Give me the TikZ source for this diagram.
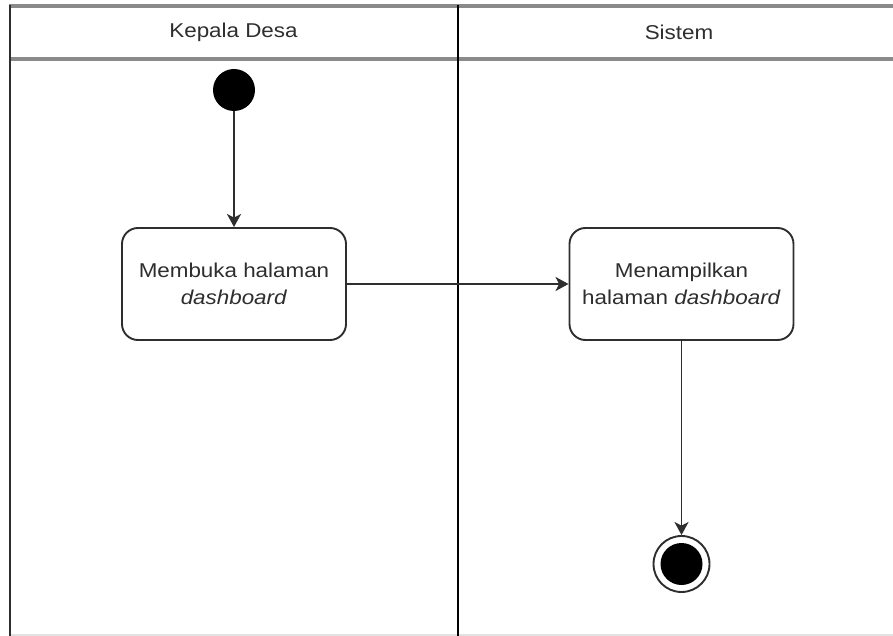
\documentclass[tikz,border=0pt]{standalone}
\usepackage{fontspec}
\setmainfont[FakeStretch=1.12]{Liberation Sans}
\usetikzlibrary{arrows.meta}
\definecolor{ink}{HTML}{2E2E2E}
\definecolor{rule}{HTML}{8A8A8A}
\definecolor{faint}{HTML}{E2E2E2}
\tikzset{
  lbl/.style={text=ink, font=\fontsize{20}{24}\selectfont, align=center, inner sep=0pt},
  action/.style={draw=ink, line width=1.9pt, rounded corners=16pt, fill=white,
    minimum width=224pt, minimum height=112pt, align=center, text=ink,
    font=\fontsize{20}{27}\selectfont, inner sep=0pt},
  startnode/.style={circle, fill=black, minimum size=42pt, inner sep=0pt},
  endnode/.style={circle, draw=ink, line width=1.9pt, minimum size=56pt, inner sep=0pt,
    path picture={\fill[black] (path picture bounding box.center) circle (21pt);}},
  flow/.style={draw=ink, line width=1.9pt, -{Stealth[length=13pt, width=14pt, inset=3.5pt]}},
  lane/.style={line width=2pt},
}
\begin{document}
\begin{tikzpicture}[x=1pt, y=-1pt]
\useasboundingbox (0,0) rectangle (893,636);
\fill[white] (0,0) rectangle (893,636);

% swimlane frame
\draw[rule, line width=3.5pt] (9,6) -- (893,6);
\draw[rule, line width=3.5pt] (9,59) -- (893,59);
\draw[faint, lane] (9,635) -- (893,635);
\draw[ink, lane] (10,5) -- (10,636);
\draw[black, lane] (457.5,5) -- (457.5,636);

% lane titles
\node[lbl] (laneA) at (233.5,32) {Kepala Desa};
\node[lbl] (laneB) at (679,32) {Sistem};

% activity nodes
\node[startnode] (start) at (234,90) {};
\node[action] (open) at (234,284) {Membuka halaman\\\textit{dashboard}};
\node[action] (show) at (681.5,284) {Menampilkan\\halaman \textit{dashboard}};
\node[endnode] (finish) at (681.5,564) {};

% control flow
\draw[flow] (start) -- (open);
\draw[flow] (open) -- (show);
\draw[flow] (show) -- (finish);
\end{tikzpicture}
\end{document}
